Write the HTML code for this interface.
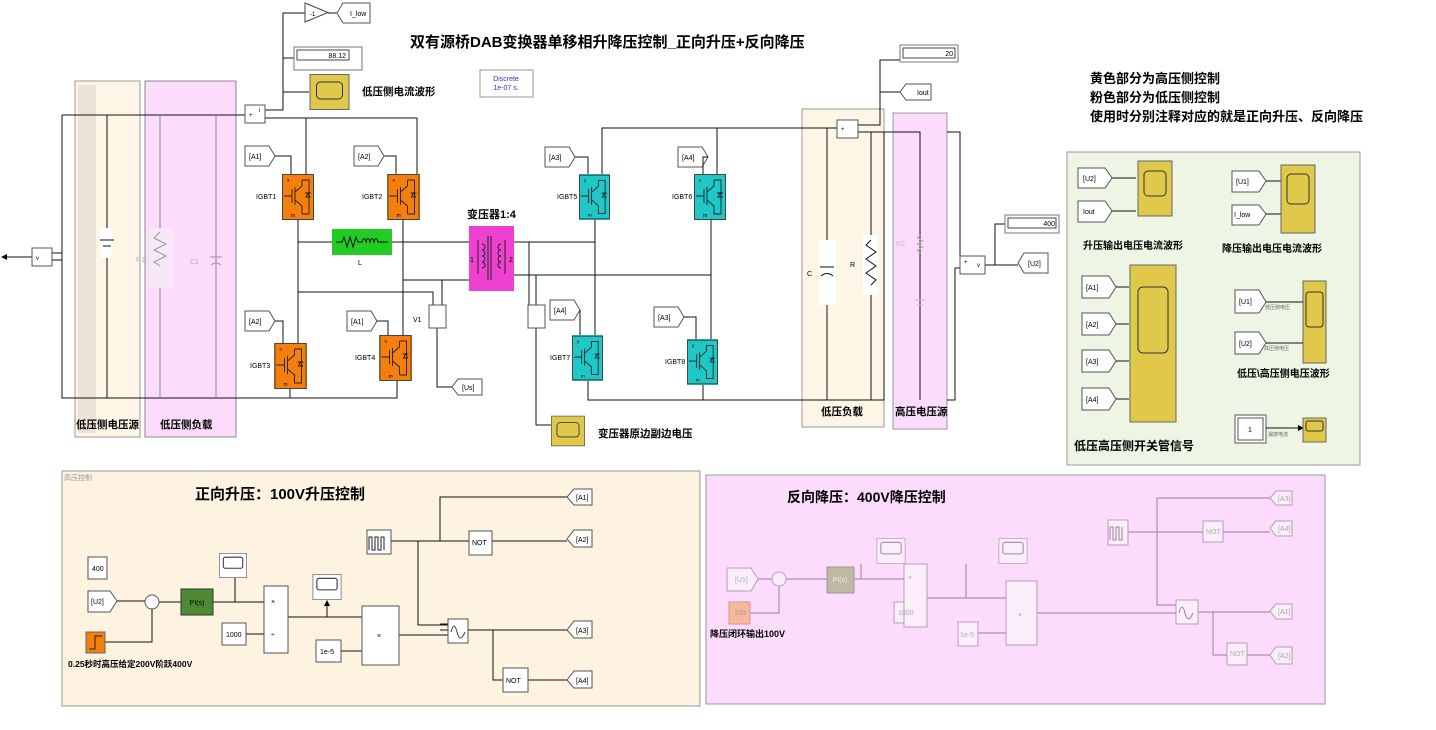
<!DOCTYPE html>
<html><head><meta charset="utf-8"><style>
html,body{margin:0;padding:0;background:#fff}
svg{display:block;font-family:"Liberation Sans","Noto Sans CJK SC",sans-serif}
.b{font-weight:bold}
</style></head><body>
<svg width="1436" height="730" viewBox="0 0 1436 730" xmlns="http://www.w3.org/2000/svg">
<defs>
<marker id="ar" markerWidth="6" markerHeight="6" refX="5" refY="3" orient="auto" markerUnits="userSpaceOnUse"><path d="M0,0 L6,3 L0,6z" fill="#000"/></marker>
<marker id="arp" markerWidth="6" markerHeight="6" refX="5" refY="3" orient="auto" markerUnits="userSpaceOnUse"><path d="M0,0 L6,3 L0,6z" fill="#a07aa0"/></marker>
<symbol id="ig" viewBox="0 0 32 46">
<rect x="0.5" y="0.5" width="31" height="45" stroke="#444" fill="none"/>
<path d="M2,22 H10 M10,15 V29 M13,13 V31 M13,18 L20,12 V6 M13,26 L20,32 V40 M20,6 H27 V40 H20 M23,19 H29 M24,23 L26,19 L28,23z" stroke="#222" fill="none" stroke-width="0.9"/>
<text x="5" y="7" font-size="4">g</text><text x="9" y="43" font-size="5">m</text>
</symbol>
<symbol id="sc" viewBox="0 0 40 36"><rect x="0.5" y="0.5" width="39" height="35" fill="#e0c84a" stroke="#666"/><rect x="7" y="8" width="26" height="17" rx="4" fill="none" stroke="#333"/></symbol>
<symbol id="scw" viewBox="0 0 40 36"><rect x="0.5" y="0.5" width="39" height="35" fill="#fff" stroke="#666"/><rect x="6" y="6" width="28" height="16" rx="3" fill="none" stroke="#333" stroke-width="1.5"/></symbol>
<symbol id="scp" viewBox="0 0 40 36"><rect x="0.5" y="0.5" width="39" height="35" fill="#fbeefb" stroke="#b89ab8"/><rect x="6" y="6" width="28" height="16" rx="3" fill="none" stroke="#a08aa0" stroke-width="1.5"/></symbol>
</defs>

<text x="410" y="47" font-size="15" class="b">双有源桥DAB变换器单移相升降压控制_正向升压+反向降压</text>
<rect x="480" y="70" width="53" height="27" fill="#fff" stroke="#999"/>
<text x="506" y="81" font-size="7" fill="#33c" text-anchor="middle">Discrete</text>
<text x="506" y="90" font-size="7" fill="#33c" text-anchor="middle">1e-07 s.</text>

<rect x="75" y="81" width="65" height="356" fill="#fdf6e6" stroke="#999"/>
<rect x="78" y="85" width="18" height="348" fill="#ece3d6"/>
<rect x="145" y="81" width="91" height="356" fill="#fcdcfc" stroke="#888"/>
<text x="76" y="428" font-size="10.5" class="b">低压侧电压源</text>
<text x="160" y="428" font-size="10.5" class="b">低压侧负载</text>
<rect x="802" y="109" width="82" height="318" fill="#fdf6e6" stroke="#999"/>
<rect x="893" y="113" width="54" height="316" fill="#fcdcfc" stroke="#999"/>
<text x="821" y="415" font-size="10.5" class="b">低压负载</text>
<text x="895" y="415" font-size="10.5" class="b">高压电压源</text>

<g stroke="#111" fill="none" stroke-width="1">
<path d="M62,115 H245 M62,115 V398 H397 V381 M107,115 V398"/>
<path d="M52,253 H62 M52,260 H62"/>
<path d="M265,118 H417 V174 M306,118 V174"/>
<path d="M265,110 H283 V13 H305 M283,58 H294 M283,92 H309"/>
<path d="M328,13 H343"/>
<path d="M298,220 V343 M298,242 H332 M392,242 H469 M403,220 V335 M403,280 H469 M298,292 H433 V305 M403,280 H442 V305"/>
<path d="M290,389 V398"/>
<path d="M437,328 V387 H458"/>
</g>
<g stroke="#888" stroke-width="1"><path d="M160,115 V398 M216,115 V398"/></g>
<path d="M32,257 H2" stroke="#111" marker-end="url(#ar)"/>
<rect x="32" y="248" width="20" height="18" fill="#fff" stroke="#555"/><text x="36" y="260" font-size="6">v</text>
<rect x="100" y="228" width="12" height="30" fill="#fff"/>
<path d="M100,240 H114 M103,246 H111" stroke="#111"/>
<rect x="149" y="228" width="24" height="60" fill="#f6e8f6"/>
<path d="M160,232 l-6,6 12,6 -12,6 12,6 -12,6 6,4" stroke="#999" fill="none"/>
<text x="136" y="262" font-size="7" fill="#aaa">R1</text><text x="190" y="264" font-size="7" fill="#aaa">C1</text>
<path d="M210,257 H222 M211,265 q5,-4 10,0" stroke="#999" fill="none"/>
<rect x="245" y="105" width="20" height="18" fill="#fff" stroke="#555"/><text x="249" y="117" font-size="6">+</text><text x="259" y="112" font-size="6">i</text>
<polygon points="305,3 328,12.5 305,22" fill="#fff" stroke="#444"/><text x="310" y="16" font-size="6">-1</text>
<polygon points="343,3 370,3 370,23 343,23 337,13" fill="#fff" stroke="#555"/><text x="350" y="16" font-size="7">I_low</text>
<rect x="294" y="47" width="68" height="23" fill="#fff" stroke="#777"/><rect x="297" y="50" width="52" height="10" fill="#fff" stroke="#444"/><text x="346" y="58" font-size="7" text-anchor="end">88.12</text>
<use href="#sc" x="309" y="74" width="41" height="36"/>
<text x="362" y="95" font-size="10.5" class="b">低压侧电流波形</text>

<g font-size="7">
<rect x="282" y="174" width="32" height="46" fill="#f57f0c"/><use href="#ig" x="282" y="174" width="32" height="46"/><text x="256" y="199">IGBT1</text>
<rect x="387" y="174" width="33" height="46" fill="#f57f0c"/><use href="#ig" x="387" y="174" width="33" height="46"/><text x="362" y="199">IGBT2</text>
<rect x="274" y="343" width="33" height="46" fill="#f57f0c"/><use href="#ig" x="274" y="343" width="33" height="46"/><text x="250" y="368">IGBT3</text>
<rect x="379" y="335" width="33" height="46" fill="#f57f0c"/><use href="#ig" x="379" y="335" width="33" height="46"/><text x="355" y="360">IGBT4</text>
<rect x="579" y="174" width="31" height="46" fill="#1fc7c7"/><use href="#ig" x="579" y="174" width="31" height="46"/><text x="557" y="199">IGBT5</text>
<rect x="694" y="174" width="32" height="46" fill="#1fc7c7"/><use href="#ig" x="694" y="174" width="32" height="46"/><text x="672" y="199">IGBT6</text>
<rect x="572" y="335" width="31" height="46" fill="#1fc7c7"/><use href="#ig" x="572" y="335" width="31" height="46"/><text x="550" y="360">IGBT7</text>
<rect x="687" y="339" width="31" height="46" fill="#1fc7c7"/><use href="#ig" x="687" y="339" width="31" height="46"/><text x="665" y="364">IGBT8</text>
</g>
<g font-size="7" fill="#fff" stroke="#555">
<polygon points="245,146 269,146 275,156 269,166 245,166"/><polygon points="354,146 378,146 384,156 378,166 354,166"/>
<polygon points="245,311 269,311 275,321 269,331 245,331"/><polygon points="347,311 371,311 377,321 371,331 347,331"/>
<polygon points="545,147 569,147 575,157 569,167 545,167"/><polygon points="678,147 702,147 708,157 702,167 678,167"/>
<polygon points="550,300 574,300 580,310 574,320 550,320"/><polygon points="654,307 678,307 684,317 678,327 654,327"/>
</g>
<g font-size="7"><text x="249" y="159">[A1]</text><text x="358" y="159">[A2]</text><text x="249" y="324">[A2]</text><text x="351" y="324">[A1]</text>
<text x="549" y="160">[A3]</text><text x="682" y="160">[A4]</text><text x="554" y="313">[A4]</text><text x="658" y="320">[A3]</text></g>
<g stroke="#111" fill="none">
<path d="M275,156 H291 V174 M384,156 H396 V174 M275,321 H283 V343 M377,321 H388 V335 M575,157 H588 V174 M708,157 H703 V174 M580,310 H580 V335 M684,317 H696 V339"/>
</g>
<rect x="332" y="229" width="60" height="26" fill="#22cc22"/>
<path d="M336,242 H342 l2,-5 3,10 3,-10 3,10 3,-10 2,5 h4 q2,-7 4,0 q2,-7 4,0 q2,-7 4,0 q2,-7 4,0 H388" stroke="#111" fill="none"/>
<text x="358" y="265" font-size="7">L</text>
<text x="467" y="218" font-size="11" class="b">变压器1:4</text>
<rect x="469" y="226" width="45" height="65" fill="#f040d0"/>
<path d="M478,240 v34 M505,240 v34 M488,236 v44 M491,236 v44" stroke="#222" fill="none"/>
<path d="M482,244 a3,3 0 0 1 0,6 a3,3 0 0 1 0,6 a3,3 0 0 1 0,6 a3,3 0 0 1 0,6 M501,244 a3,3 0 0 0 0,6 a3,3 0 0 0 0,6 a3,3 0 0 0 0,6 a3,3 0 0 0 0,6" stroke="#222" fill="none"/>
<text x="470" y="262" font-size="7">1</text><text x="509" y="262" font-size="7">2</text>
<g stroke="#111" fill="none">
<path d="M514,242 H595 V220 M514,275 H711 V220 M595,242 V335 M711,275 V339 M529,242 V305 M536,275 V305"/>
<path d="M602,174 V128 H837 M717,174 V128 M588,381 V400 H884 V132 H858 M703,385 V400"/>
<path d="M536,328 V425 H551"/>
<path d="M858,125 H880 V60 H900 M880,92 H900"/>
<path d="M827,128 V400 M871,132 V400 M884,132 H920 V400 M947,132 H960 V262 M947,400 H955 V268 H960"/>
<path d="M985,265 H995 V224 H1005 M995,265 H1018"/>
</g>
<rect x="429" y="305" width="17" height="23" fill="#fff" stroke="#555"/><text x="413" y="322" font-size="7">V1</text>
<rect x="528" y="305" width="17" height="23" fill="#fff" stroke="#555"/>
<polygon points="458,379 482,379 482,395 458,395 452,387" fill="#fff" stroke="#555"/><text x="462" y="390" font-size="7">[Us]</text>
<use href="#sc" x="551" y="411" width="34" height="40"/>
<text x="598" y="437" font-size="10.5" class="b">变压器原边副边电压</text>
<rect x="837" y="120" width="21" height="18" fill="#fff" stroke="#555"/><text x="841" y="131" font-size="6">+</text>
<rect x="819" y="240" width="17" height="65" fill="#fff"/><path d="M820,267 H834 M821,276 q6,-5 12,0" stroke="#111" fill="none"/>
<text x="807" y="276" font-size="7">C</text>
<rect x="863" y="235" width="15" height="60" fill="#fff"/><path d="M871,240 l-5,5 10,7 -10,7 10,7 -10,7 10,7 -5,5" stroke="#111" fill="none"/>
<text x="850" y="267" font-size="7">R</text>
<text x="896" y="246" font-size="7" fill="#bbb">R2</text>
<path d="M920,235 l-3,3 6,3 -6,3 6,3 -6,3 3,3 M915,300 h10 M917,305 h6" stroke="#bbb" fill="none"/>
<rect x="900" y="45" width="58" height="17" fill="#fff" stroke="#777"/><rect x="903" y="48" width="52" height="10" fill="#fff" stroke="#444"/><text x="953" y="56" font-size="7" text-anchor="end">20</text>
<polygon points="906,84 931,84 931,100 906,100 900,92" fill="#fff" stroke="#555"/><text x="917" y="95" font-size="7">Iout</text>
<rect x="1005" y="215" width="54" height="18" fill="#fff" stroke="#777"/><rect x="1008" y="218" width="48" height="10" fill="#fff" stroke="#444"/><text x="1055" y="226" font-size="7" text-anchor="end">400</text>
<rect x="960" y="256" width="25" height="18" fill="#fff" stroke="#555"/><text x="964" y="264" font-size="6">+</text><text x="977" y="267" font-size="6">v</text>
<polygon points="1024,253 1048,253 1048,273 1024,273 1018,263" fill="#fff" stroke="#555"/><text x="1028" y="266" font-size="7">[U2]</text>

<text x="1090" y="83" font-size="13" class="b">黄色部分为高压侧控制</text>
<text x="1090" y="102" font-size="13" class="b">粉色部分为低压侧控制</text>
<text x="1090" y="121" font-size="13" class="b">使用时分别注释对应的就是正向升压、反向降压</text>

<rect x="1067" y="152" width="293" height="313" fill="#eef5e4" stroke="#999"/>
<g fill="#fff" stroke="#555">
<polygon points="1078,168 1105,168 1112,178 1105,188 1078,188"/><polygon points="1078,201 1105,201 1112,211 1105,222 1078,222"/>
<polygon points="1232,171 1259,171 1266,181 1259,192 1232,192"/><polygon points="1232,205 1259,205 1266,214 1259,225 1232,225"/>
<polygon points="1082,276 1109,276 1116,287 1109,298 1082,298"/><polygon points="1082,313 1109,313 1116,324 1109,335 1082,335"/>
<polygon points="1082,350 1109,350 1116,361 1109,372 1082,372"/><polygon points="1082,388 1109,388 1116,399 1109,410 1082,410"/>
<polygon points="1235,290 1259,290 1266,302 1259,313 1235,313"/><polygon points="1235,332 1259,332 1266,343 1259,354 1235,354"/>
<rect x="1235" y="415" width="31" height="28"/>
</g>
<rect x="1238" y="418" width="25" height="22" fill="#fff" stroke="#555"/>
<g font-size="7"><text x="1083" y="181">[U2]</text><text x="1083" y="214">Iout</text><text x="1236" y="184">[U1]</text><text x="1234" y="217">I_low</text>
<text x="1086" y="290">[A1]</text><text x="1086" y="327">[A2]</text><text x="1086" y="364">[A3]</text><text x="1086" y="402">[A4]</text>
<text x="1239" y="304">[U1]</text><text x="1239" y="346">[U2]</text><text x="1248" y="432">1</text></g>
<g stroke="#111"><path d="M1112,178 H1136 M1112,211 H1136 M1266,181 H1281 M1266,214 H1281 M1116,287 H1129 M1116,324 H1129 M1116,361 H1129 M1116,399 H1129 M1266,302 H1303 M1266,343 H1303 M1266,428 H1303" marker-end="url(#ar)"/></g>
<g font-size="5" fill="#666"><text x="1265" y="309">低压侧电压</text><text x="1264" y="350">高压侧电压</text><text x="1268" y="436">漏感电流</text></g>
<rect x="1138" y="161" width="34" height="55" fill="#e0c84a" stroke="#666"/><rect x="1144" y="171" width="22" height="25" rx="4" fill="none" stroke="#333"/>
<rect x="1281" y="165" width="34" height="68" fill="#e0c84a" stroke="#666"/><rect x="1287" y="174" width="22" height="30" rx="4" fill="none" stroke="#333"/>
<rect x="1130" y="265" width="46" height="157" fill="#e0c84a" stroke="#666"/><rect x="1138" y="287" width="30" height="66" rx="5" fill="none" stroke="#333"/>
<rect x="1303" y="281" width="23" height="82" fill="#e0c84a" stroke="#666"/><rect x="1306" y="292" width="17" height="35" rx="3" fill="none" stroke="#333"/>
<rect x="1303" y="418" width="23" height="24" fill="#e0c84a" stroke="#666"/><rect x="1306" y="421" width="17" height="10" rx="2" fill="none" stroke="#333"/>
<g font-size="10" class="b"><text x="1083" y="249">升压输出电压电流波形</text><text x="1222" y="252">降压输出电压电流波形</text><text x="1237" y="377">低压\高压侧电压波形</text></g>
<text x="1074" y="450" font-size="12" class="b">低压高压侧开关管信号</text>

<!-- beige control -->
<rect x="62" y="471" width="638" height="235" fill="#fdf3e0" stroke="#999"/>
<text x="64" y="480" font-size="7" fill="#999">高压控制</text>
<text x="195" y="499" font-size="15" class="b">正向升压：100V升压控制</text>
<g stroke="#111" fill="none">
<path d="M117,601 H145 M159,602 H181 M105,642 H152 V609 M213,602 H264 M246,634 H264 M288,617 H362 M341,651 H362 M399,635 H448 M235,602 V578 M327,617 V601"/>
<path d="M391,541 H469 M492,541 H567 M440,541 V497 H567 M418,541 V625 H448 M468,630 H567 M493,630 V680 H503 M528,680 H567"/>
</g>
<g stroke="#111"><path d="M117,601 H145 M159,602 H181 M255,602 H264 M250,634 H264 M352,617 H362 M352,651 H362 M440,630 H448 M440,624 H448 M460,541 H469 M558,541 H567 M558,497 H567 M558,630 H567 M495,680 H503 M558,680 H567 M235,586 V578 M327,610 V601" marker-end="url(#ar)"/></g>
<g fill="#fff" stroke="#555">
<rect x="88" y="557" width="19" height="22"/>
<polygon points="88,591 110,591 117,601 110,612 88,612"/>
<circle cx="152" cy="602" r="7"/>
<rect x="222" y="623" width="24" height="22"/>
<rect x="264" y="586" width="24" height="67"/>
<rect x="316" y="640" width="25" height="22"/>
<rect x="362" y="606" width="37" height="59"/>
<rect x="367" y="530" width="24" height="24"/>
<rect x="469" y="531" width="23" height="24"/>
<rect x="503" y="668" width="25" height="24"/>
<polygon points="574,489 592,489 592,505 574,505 567,497"/><polygon points="574,530 592,530 592,547 574,547 567,539"/>
<polygon points="574,621 592,621 592,638 574,638 567,630"/><polygon points="574,671 592,671 592,688 574,688 567,680"/>
<rect x="448" y="619" width="20" height="24"/>
</g>
<use href="#scw" x="219" y="553" width="28" height="25"/>
<use href="#scw" x="312" y="574" width="30" height="26"/>
<rect x="181" y="589" width="32" height="26" fill="#4e8a33" stroke="#333"/><text x="197" y="605" font-size="7" text-anchor="middle">PI(s)</text>
<rect x="86" y="632" width="19" height="21" fill="#f57f0c" stroke="#666"/><path d="M89,649 h6 v-13 h7" stroke="#222" fill="none"/>
<path d="M369,550 v-13 h3 v13 h3 v-13 h3 v13 h3 v-13 h3 v13" stroke="#222" fill="none"/>
<path d="M451,632 q3,-12 6,0 q3,12 8,0" stroke="#444" fill="none"/>
<g font-size="7"><text x="92" y="571">400</text><text x="91" y="604">[U2]</text><text x="226" y="637">1000</text><text x="320" y="654">1e-5</text>
<text x="377" y="638">×</text><text x="271" y="604">×</text><text x="271" y="637">÷</text><text x="472" y="545">NOT</text><text x="506" y="683">NOT</text>
<text x="576" y="500">[A1]</text><text x="576" y="542">[A2]</text><text x="576" y="633">[A3]</text><text x="576" y="683">[A4]</text></g>
<text x="68" y="667" font-size="8.5" class="b">0.25秒时高压给定200V阶跃400V</text>

<!-- pink control -->
<rect x="706" y="475" width="619" height="229" fill="#fcdcfc" stroke="#999"/>
<text x="787" y="502" font-size="14" class="b">反向降压：400V降压控制</text>
<g stroke="#a07aa0" fill="none">
<path d="M758,579 H772 M786,579 H827 M750,613 H779 V586 M854,579 H904 M913,613 H904 M927,598 H1006 M978,633 H1006 M1037,613 H1176 M861,579 V564 M966,598 V564"/>
<path d="M1128,532 H1203 M1223,532 H1270 M1157,532 V498 H1270 M1157,532 V605 H1176 M1198,612 H1270 M1213,612 V655 H1227 M1247,655 H1270"/>
</g>
<g fill="#fbeefb" stroke="#b89ab8">
<polygon points="727,568 751,568 758,579 751,591 727,591"/>
<circle cx="779" cy="579" r="7"/>
<rect x="894" y="602" width="19" height="21"/><rect x="904" y="564" width="23" height="63"/>
<rect x="958" y="622" width="20" height="24"/><rect x="1006" y="581" width="31" height="64"/>
<rect x="1108" y="520" width="20" height="25"/><rect x="1176" y="600" width="22" height="24"/>
<rect x="1203" y="521" width="20" height="21"/><rect x="1227" y="643" width="20" height="22"/>
<polygon points="1276,491 1292,491 1292,505 1276,505 1270,498"/><polygon points="1276,521 1292,521 1292,536 1276,536 1270,528"/>
<polygon points="1276,604 1292,604 1292,619 1276,619 1270,611"/><polygon points="1276,647 1292,647 1292,664 1276,664 1270,655"/>
</g>
<use href="#scp" x="876" y="538" width="30" height="26"/>
<use href="#scp" x="998" y="538" width="30" height="26"/>
<rect x="827" y="567" width="27" height="26" fill="#bfb8a2" stroke="#999"/><text x="840" y="582" font-size="7" fill="#eee" text-anchor="middle">PI(s)</text>
<rect x="729" y="602" width="21" height="22" fill="#f8b89a" stroke="#c99"/><text x="740" y="615" font-size="7" fill="#999" text-anchor="middle">100</text>
<text x="710" y="637" font-size="9" class="b">降压闭环输出100V</text>
<g font-size="7" fill="#aaa"><text x="735" y="582">[U1]</text><text x="898" y="615">1000</text><text x="960" y="637">1e-5</text><text x="1018" y="617">×</text><text x="908" y="580">×</text>
<text x="1206" y="534">NOT</text><text x="1230" y="656">NOT</text><text x="1278" y="501">[A3]</text><text x="1278" y="531">[A4]</text><text x="1278" y="614">[A1]</text><text x="1278" y="658">[A2]</text></g>
<path d="M1110,540 v-13 h3 v13 h3 v-13 h3 v13 h3 v-13" stroke="#a07aa0" fill="none"/>
<path d="M1179,613 q3,-12 6,0 q3,12 8,0" stroke="#a07aa0" fill="none"/>
</svg>
</body></html>
